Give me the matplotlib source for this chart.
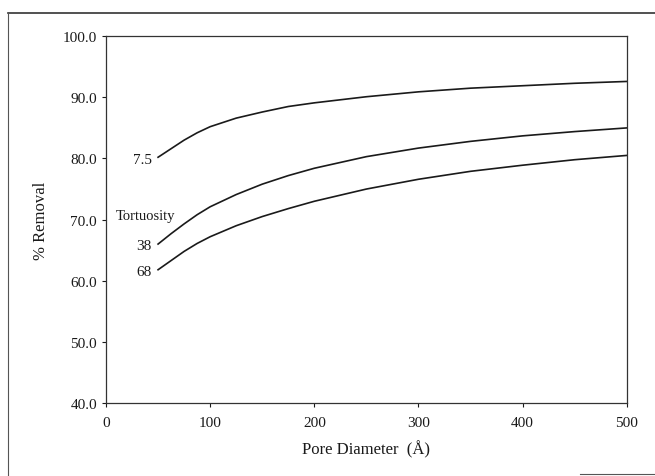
import numpy as np
import matplotlib
matplotlib.use('Agg')
import matplotlib.pyplot as plt
from matplotlib.lines import Line2D

plt.rcParams['font.family'] = ['Liberation Serif', 'DejaVu Serif']

# pore diameter (angstrom)
diametro = [50, 62.5, 75, 87.5, 100, 125, 150, 175, 200, 250, 300, 350, 400, 450, 500]

# % removal for each tortuosity
remocao_7_5 = [80.2, 81.6, 83.0, 84.2, 85.2, 86.6, 87.6, 88.5, 89.1, 90.1, 90.9, 91.5, 91.9, 92.3, 92.6]
remocao_38 = [66.0, 67.7, 69.3, 70.8, 72.1, 74.1, 75.8, 77.2, 78.4, 80.3, 81.7, 82.8, 83.7, 84.4, 85.0]
remocao_68 = [61.8, 63.3, 64.8, 66.1, 67.2, 69.0, 70.5, 71.8, 73.0, 75.0, 76.6, 77.9, 78.9, 79.8, 80.5]

rotulos = ['7.5', '38', '68']
y_ticks = [40.0, 50.0, 60.0, 70.0, 80.0, 90.0, 100.0]
x_ticks = [0, 100, 200, 300, 400, 500]

fig = plt.figure(figsize=(6.55, 4.77), dpi=100)
ax = fig.add_axes([0.1618, 0.153, 0.7952, 0.769])

cor = '#1a1a1a'
for serie, rot in zip([remocao_7_5, remocao_38, remocao_68], rotulos):
    ax.plot(diametro, serie, color=cor, lw=1.2)
    ax.text(44, serie[0] - 0.3, rot, ha='right', va='center', fontsize=11, color=cor)

ax.text(38, 70.6, 'Tortuosity', ha='center', va='center', fontsize=10.5, color=cor)

ax.set_xlim(0, 500)
ax.set_ylim(40, 100)
ax.set_xticks(x_ticks)
ax.set_yticks(y_ticks)
ax.set_yticklabels(['%.1f' % v for v in y_ticks])
ax.tick_params(direction='out', length=3, width=0.8, labelsize=11, colors=cor)
ax.tick_params(axis='x', pad=6)
for s in ax.spines.values():
    s.set_color('#333333')
    s.set_linewidth(0.9)

ax.set_xlabel('Pore Diameter  (Å)', fontsize=12, color=cor, labelpad=8)
ax.set_ylabel('% Removal', fontsize=12, color=cor, labelpad=10)

# scanned page frame
fig.add_artist(Line2D([8/655, 1], [1 - 14/477, 1 - 14/477], transform=fig.transFigure, color='#333333', lw=1.2))
fig.add_artist(Line2D([8/655, 8/655], [0, 1 - 14/477], transform=fig.transFigure, color='#555555', lw=0.8))
fig.add_artist(Line2D([580/655, 1], [1 - 475/477, 1 - 475/477], transform=fig.transFigure, color='#555555', lw=0.8))

fig.savefig('out.png', dpi=100)
